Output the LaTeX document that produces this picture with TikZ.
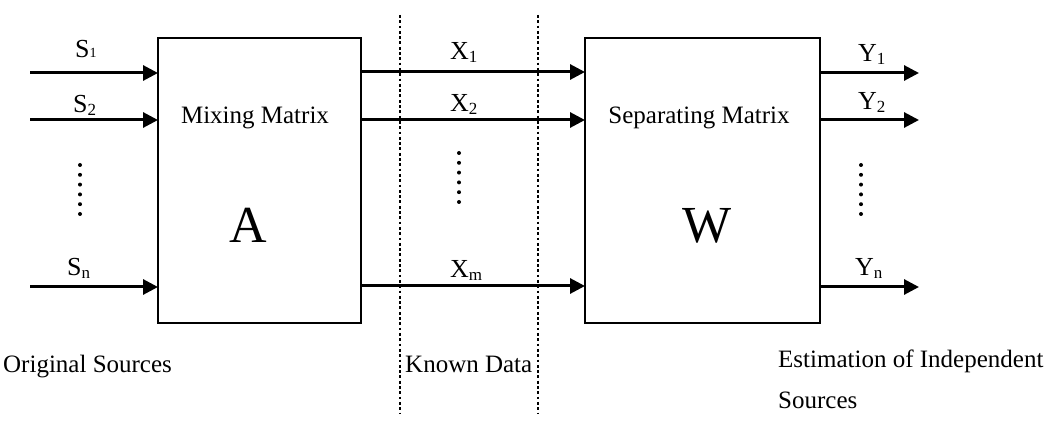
\documentclass[tikz,border=0pt]{standalone}
\usepackage{fontspec}
\setmainfont{Liberation Serif}
\usetikzlibrary{arrows.meta}
\newcommand\mysub[1]{\raisebox{-3pt}{\fontsize{17}{17}\selectfont #1}}
\newcommand\mysubup[1]{{\fontsize{14}{14}\selectfont #1}}
\begin{document}
\begin{tikzpicture}[x=1pt,y=-1pt,
  blockbox/.style={draw, line width=2pt, inner sep=0pt, outer sep=0pt},
  sig/.style={line width=3pt, -{Triangle[length=15pt,width=15pt]}},
  txt/.style={inner sep=0pt, font=\fontsize{25}{30}\selectfont},
  lab/.style={inner sep=0pt, font=\fontsize{26}{30}\selectfont},
  big/.style={inner sep=0pt, font=\fontsize{52}{60}\selectfont},
  sepline/.style={line width=2.8pt, dash pattern=on 2.8pt off 2.5pt}]
\useasboundingbox (0,0) rectangle (1050,422);
% blocks
\node[blockbox, minimum width=203pt, minimum height=285pt] (mix) at (259.5,180.5) {};
\node[blockbox, minimum width=235pt, minimum height=285pt] (sepm) at (702.5,180.5) {};
\node[txt, anchor=base] (mixlbl) at (255,124) {Mixing Matrix};
\node[big, anchor=base] (Albl) at (248,243) {A};
\node[txt, anchor=base] (seplbl) at (699,124) {Separating Matrix};
\node[big, anchor=base] (Wlbl) at (707,243) {W};
% separators
\coordinate (d1t) at (400,15); \coordinate (d1b) at (400,413);
\coordinate (d2t) at (538,15); \coordinate (d2b) at (538,413);
\draw[sepline] (d1t) -- (d1b);
\draw[sepline] (d2t) -- (d2b);
% inputs
\coordinate (s1) at (30,73);
\coordinate (s2) at (30,120);
\coordinate (sn) at (30,287);
\draw[sig] (s1) -- (s1 -| mix.west);
\draw[sig] (s2) -- (s2 -| mix.west);
\draw[sig] (sn) -- (sn -| mix.west);
\node[lab, anchor=base west] (s1l) at (75,58) {S\mysubup{1}};
\node[lab, anchor=base west] (s2l) at (73,113) {S\mysub{2}};
\node[lab, anchor=base west] (snl) at (67,276) {S\mysub{n}};
\foreach \k in {0,...,5} \fill (80,165+9.8*\k) circle (2pt);
% mixtures
\coordinate (x1) at (470,72);
\coordinate (x2) at (470,120);
\coordinate (xm) at (470,286);
\draw[sig] (x1 -| mix.east) -- (x1 -| sepm.west);
\draw[sig] (x2 -| mix.east) -- (x2 -| sepm.west);
\draw[sig] (xm -| mix.east) -- (xm -| sepm.west);
\node[lab, anchor=base west] (x1l) at (450,60) {X\mysub{1}};
\node[lab, anchor=base west] (x2l) at (450,112) {X\mysub{2}};
\node[lab, anchor=base west] (xml) at (450,277) {X\mysub{m}};
\foreach \k in {0,...,5} \fill (459,153+9.8*\k) circle (2pt);
% outputs
\coordinate (y1) at (919,73);
\coordinate (y2) at (919,120);
\coordinate (yn) at (919,287);
\draw[sig] (y1 -| sepm.east) -- (y1);
\draw[sig] (y2 -| sepm.east) -- (y2);
\draw[sig] (yn -| sepm.east) -- (yn);
\node[lab, anchor=base west] (y1l) at (858,62) {Y\mysub{1}};
\node[lab, anchor=base west] (y2l) at (858,110) {Y\mysub{2}};
\node[lab, anchor=base west] (ynl) at (855,276) {Y\mysub{n}};
\foreach \k in {0,...,5} \fill (861,165+9.8*\k) circle (2pt);
% captions
\node[txt, anchor=base west] (orig) at (3,372) {Original Sources};
\node[txt, anchor=base west] (known) at (405,372) {Known Data};
\node[txt, anchor=base west] (est1) at (778,367) {Estimation of Independent};
\node[txt, anchor=base west] (est2) at (778,408) {Sources};
\end{tikzpicture}
\end{document}
